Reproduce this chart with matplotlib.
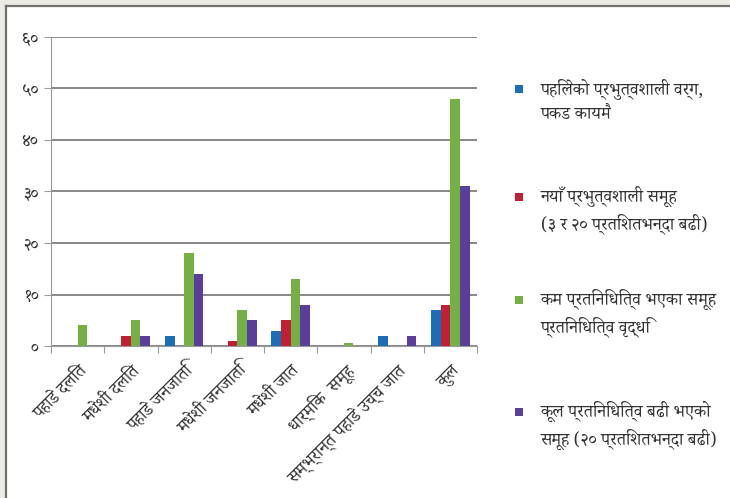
import matplotlib
matplotlib.use("Agg")
import matplotlib.pyplot as plt
import numpy as np
from matplotlib import font_manager as fm
from matplotlib.patches import Rectangle
from matplotlib.lines import Line2D

# --- font selection (Devanagari) ---
fam = None
paths = fm.findSystemFonts()
for pref in ["NotoSerifDevanagari-Regular", "NotoSerifDevanagari[", "NotoSansDevanagari-Regular",
             "NotoSansDevanagariUI-Regular", "Sarala-Regular", "Palanquin-Regular"]:
    for p in paths:
        if pref in p.split("/")[-1]:
            try:
                fm.fontManager.addfont(p)
                fam = fm.FontProperties(fname=p).get_name()
            except Exception:
                fam = None
            break
    if fam:
        break
families = [fam, "DejaVu Sans"] if fam else ["DejaVu Sans"]
plt.rcParams["font.family"] = families

# --- data ---
categories = ["पहाडे दलित", "मधेशी दलित", "पहाडे जनजाति", "मधेशी जनजाति",
              "मधेशी जात", "धार्मिक  समूह", "सम्भ्रान्त पहाडे उच्च जात", "कुल"]
series_names = ["पहिलेको प्रभुत्वशाली वर्ग,\nपकड कायमै",
                "नयाँ प्रभुत्वशाली समूह\n(३ र २० प्रतिशतभन्दा बढी)",
                "कम प्रतिनिधित्व भएका समूह\nप्रतिनिधित्व वृद्धि",
                "कूल प्रतिनिधित्व बढी भएको\nसमूह (२० प्रतिशतभन्दा बढी)"]
blue_vals = [0, 0, 2, 0, 3, 0, 2, 7]
red_vals = [0, 2, 0, 1, 5, 0, 0, 8]
green_vals = [4, 5, 18, 7, 13, 0.6, 0, 48]
purple_vals = [0, 2, 14, 5, 8, 0, 2, 31]
yticks = [0, 10, 20, 30, 40, 50, 60]
ytick_labels = ["०", "१०", "२०", "३०", "४०", "५०", "६०"]

colors = ["#1b6db5", "#bf2035", "#74b043", "#5a3e9c"]
series = [blue_vals, red_vals, green_vals, purple_vals]

W, H = 730, 498
fig = plt.figure(figsize=(W / 100, H / 100), dpi=100)
fig.patch.set_facecolor("#ebeae3")
# inner white panel with dark top/left border
fig.add_artist(Rectangle((6 / W, 0), 1, 1 - 6 / H, transform=fig.transFigure,
                         facecolor="white", edgecolor="none", zorder=0))
fig.add_artist(Line2D([6 / W, 6 / W], [0, 1 - 6 / H], transform=fig.transFigure,
                      color="#707070", lw=1.6, zorder=1))
fig.add_artist(Line2D([6 / W, 1], [1 - 6 / H, 1 - 6 / H], transform=fig.transFigure,
                      color="#707070", lw=1.6, zorder=1))

ax = fig.add_axes([51 / W, 1 - 346 / H, (477 - 51) / W, (346 - 37) / H])
ax.set_facecolor("none")
x = np.arange(len(categories))
bw = 0.18
for i, (vals, c) in enumerate(zip(series, colors)):
    ax.bar(x + (i - 1.5) * bw, vals, width=bw, color=c, zorder=3, label=series_names[i])

ax.set_xlim(-0.5, len(categories) - 0.5)
ax.set_ylim(0, 60)
ax.set_yticks(yticks)
ax.set_yticklabels(ytick_labels, fontsize=12, color="#333333", fontweight="bold")
ax.yaxis.grid(True, color="#888888", lw=1.4, zorder=0)
ax.set_axisbelow(True)
for s in ["top", "right"]:
    ax.spines[s].set_visible(False)
ax.spines["left"].set_color("#9a9a9a")
ax.spines["bottom"].set_color("#9a9a9a")
ax.tick_params(axis="y", length=5, color="#9a9a9a", pad=4)
ax.set_xticks(np.arange(-0.5, len(categories), 1))
ax.set_xticklabels([])
ax.tick_params(axis="x", which="major", length=5, color="#9a9a9a")
ax.set_xticks(x, minor=True)
ax.set_xticklabels(categories, minor=True, rotation=45, ha="right",
                   rotation_mode="anchor", fontsize=12.5, color="#333333")
ax.tick_params(axis="x", which="minor", length=0, pad=11)

# legend
leg_y = [89, 197, 300, 412]
for name, c, yy in zip(series_names, colors, leg_y):
    fig.add_artist(Rectangle((515 / W, 1 - (yy + 4) / H), 8 / W, 8 / H,
                             transform=fig.transFigure, facecolor=c, edgecolor="none"))
    fig.text(541 / W, 1 - (yy - 11) / H, name, fontsize=12.5, color="#333333",
             va="top", ha="left", linespacing=1.4)

fig.savefig("out.png", dpi=100, facecolor=fig.get_facecolor())
